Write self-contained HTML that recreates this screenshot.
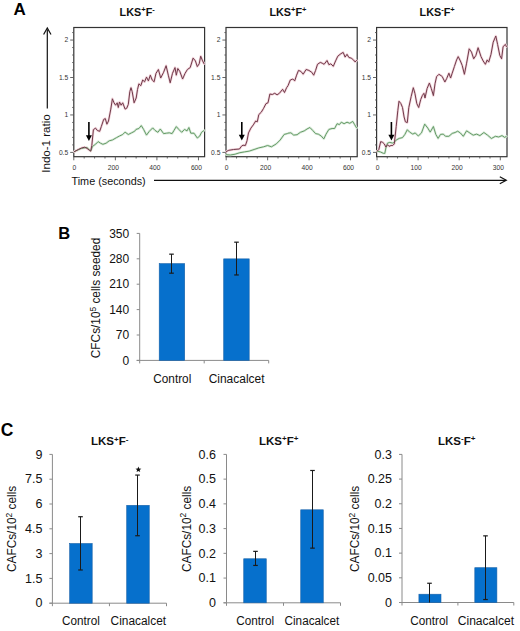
<!DOCTYPE html>
<html><head><meta charset="utf-8"><style>
html,body{margin:0;padding:0;background:#fff;}
svg{display:block;font-family:"Liberation Sans", sans-serif;}
</style></head><body>
<svg width="520" height="631" viewBox="0 0 520 631">
<rect x="0" y="0" width="520" height="631" fill="#fff"/>
<text x="13.5" y="15" font-size="17" text-anchor="start" font-weight="bold" fill="#000" >A</text>
<rect x="73.8" y="27.5" width="130.8" height="129.2" fill="none" stroke="#333" stroke-width="1.2"/>
<line x1="70.2" y1="152.4" x2="73.8" y2="152.4" stroke="#555" stroke-width="0.9"/>
<text x="68.2" y="154.8" font-size="6.7" text-anchor="end" font-weight="normal" fill="#333" >0.5</text>
<line x1="72.2" y1="144.91" x2="73.8" y2="144.91" stroke="#555" stroke-width="0.9"/>
<line x1="72.2" y1="137.42" x2="73.8" y2="137.42" stroke="#555" stroke-width="0.9"/>
<line x1="72.2" y1="129.93" x2="73.8" y2="129.93" stroke="#555" stroke-width="0.9"/>
<line x1="72.2" y1="122.44" x2="73.8" y2="122.44" stroke="#555" stroke-width="0.9"/>
<line x1="70.2" y1="114.95" x2="73.8" y2="114.95" stroke="#555" stroke-width="0.9"/>
<text x="68.2" y="117.35" font-size="6.7" text-anchor="end" font-weight="normal" fill="#333" >1</text>
<line x1="72.2" y1="107.46" x2="73.8" y2="107.46" stroke="#555" stroke-width="0.9"/>
<line x1="72.2" y1="99.97" x2="73.8" y2="99.97" stroke="#555" stroke-width="0.9"/>
<line x1="72.2" y1="92.48" x2="73.8" y2="92.48" stroke="#555" stroke-width="0.9"/>
<line x1="72.2" y1="84.99" x2="73.8" y2="84.99" stroke="#555" stroke-width="0.9"/>
<line x1="70.2" y1="77.5" x2="73.8" y2="77.5" stroke="#555" stroke-width="0.9"/>
<text x="68.2" y="79.9" font-size="6.7" text-anchor="end" font-weight="normal" fill="#333" >1.5</text>
<line x1="72.2" y1="70.01" x2="73.8" y2="70.01" stroke="#555" stroke-width="0.9"/>
<line x1="72.2" y1="62.52" x2="73.8" y2="62.52" stroke="#555" stroke-width="0.9"/>
<line x1="72.2" y1="55.03" x2="73.8" y2="55.03" stroke="#555" stroke-width="0.9"/>
<line x1="72.2" y1="47.54" x2="73.8" y2="47.54" stroke="#555" stroke-width="0.9"/>
<line x1="70.2" y1="40.05" x2="73.8" y2="40.05" stroke="#555" stroke-width="0.9"/>
<text x="68.2" y="42.45" font-size="6.7" text-anchor="end" font-weight="normal" fill="#333" >2</text>
<line x1="72.2" y1="32.56" x2="73.8" y2="32.56" stroke="#555" stroke-width="0.9"/>
<line x1="73.8" y1="156.7" x2="73.8" y2="160.3" stroke="#555" stroke-width="0.9"/>
<text x="74.3" y="169.9" font-size="6.7" text-anchor="middle" font-weight="normal" fill="#333" >0</text>
<line x1="84.19" y1="156.7" x2="84.19" y2="158.5" stroke="#555" stroke-width="0.9"/>
<line x1="94.58" y1="156.7" x2="94.58" y2="158.5" stroke="#555" stroke-width="0.9"/>
<line x1="104.97" y1="156.7" x2="104.97" y2="158.5" stroke="#555" stroke-width="0.9"/>
<line x1="115.36" y1="156.7" x2="115.36" y2="160.3" stroke="#555" stroke-width="0.9"/>
<text x="113.36" y="169.9" font-size="6.7" text-anchor="middle" font-weight="normal" fill="#333" >200</text>
<line x1="125.75" y1="156.7" x2="125.75" y2="158.5" stroke="#555" stroke-width="0.9"/>
<line x1="136.14" y1="156.7" x2="136.14" y2="158.5" stroke="#555" stroke-width="0.9"/>
<line x1="146.53" y1="156.7" x2="146.53" y2="158.5" stroke="#555" stroke-width="0.9"/>
<line x1="156.92" y1="156.7" x2="156.92" y2="160.3" stroke="#555" stroke-width="0.9"/>
<text x="154.92" y="169.9" font-size="6.7" text-anchor="middle" font-weight="normal" fill="#333" >400</text>
<line x1="167.31" y1="156.7" x2="167.31" y2="158.5" stroke="#555" stroke-width="0.9"/>
<line x1="177.7" y1="156.7" x2="177.7" y2="158.5" stroke="#555" stroke-width="0.9"/>
<line x1="188.09" y1="156.7" x2="188.09" y2="158.5" stroke="#555" stroke-width="0.9"/>
<line x1="198.48" y1="156.7" x2="198.48" y2="160.3" stroke="#555" stroke-width="0.9"/>
<text x="196.48" y="169.9" font-size="6.7" text-anchor="middle" font-weight="normal" fill="#333" >600</text>
<rect x="226" y="27.5" width="131.2" height="129.2" fill="none" stroke="#333" stroke-width="1.2"/>
<line x1="222.4" y1="152.4" x2="226" y2="152.4" stroke="#555" stroke-width="0.9"/>
<text x="220.4" y="154.8" font-size="6.7" text-anchor="end" font-weight="normal" fill="#333" >0.5</text>
<line x1="224.4" y1="144.91" x2="226" y2="144.91" stroke="#555" stroke-width="0.9"/>
<line x1="224.4" y1="137.42" x2="226" y2="137.42" stroke="#555" stroke-width="0.9"/>
<line x1="224.4" y1="129.93" x2="226" y2="129.93" stroke="#555" stroke-width="0.9"/>
<line x1="224.4" y1="122.44" x2="226" y2="122.44" stroke="#555" stroke-width="0.9"/>
<line x1="222.4" y1="114.95" x2="226" y2="114.95" stroke="#555" stroke-width="0.9"/>
<text x="220.4" y="117.35" font-size="6.7" text-anchor="end" font-weight="normal" fill="#333" >1</text>
<line x1="224.4" y1="107.46" x2="226" y2="107.46" stroke="#555" stroke-width="0.9"/>
<line x1="224.4" y1="99.97" x2="226" y2="99.97" stroke="#555" stroke-width="0.9"/>
<line x1="224.4" y1="92.48" x2="226" y2="92.48" stroke="#555" stroke-width="0.9"/>
<line x1="224.4" y1="84.99" x2="226" y2="84.99" stroke="#555" stroke-width="0.9"/>
<line x1="222.4" y1="77.5" x2="226" y2="77.5" stroke="#555" stroke-width="0.9"/>
<text x="220.4" y="79.9" font-size="6.7" text-anchor="end" font-weight="normal" fill="#333" >1.5</text>
<line x1="224.4" y1="70.01" x2="226" y2="70.01" stroke="#555" stroke-width="0.9"/>
<line x1="224.4" y1="62.52" x2="226" y2="62.52" stroke="#555" stroke-width="0.9"/>
<line x1="224.4" y1="55.03" x2="226" y2="55.03" stroke="#555" stroke-width="0.9"/>
<line x1="224.4" y1="47.54" x2="226" y2="47.54" stroke="#555" stroke-width="0.9"/>
<line x1="222.4" y1="40.05" x2="226" y2="40.05" stroke="#555" stroke-width="0.9"/>
<text x="220.4" y="42.45" font-size="6.7" text-anchor="end" font-weight="normal" fill="#333" >2</text>
<line x1="224.4" y1="32.56" x2="226" y2="32.56" stroke="#555" stroke-width="0.9"/>
<line x1="226.2" y1="156.7" x2="226.2" y2="160.3" stroke="#555" stroke-width="0.9"/>
<text x="226.7" y="169.9" font-size="6.7" text-anchor="middle" font-weight="normal" fill="#333" >0</text>
<line x1="236.56" y1="156.7" x2="236.56" y2="158.5" stroke="#555" stroke-width="0.9"/>
<line x1="246.92" y1="156.7" x2="246.92" y2="158.5" stroke="#555" stroke-width="0.9"/>
<line x1="257.28" y1="156.7" x2="257.28" y2="158.5" stroke="#555" stroke-width="0.9"/>
<line x1="267.64" y1="156.7" x2="267.64" y2="160.3" stroke="#555" stroke-width="0.9"/>
<text x="265.64" y="169.9" font-size="6.7" text-anchor="middle" font-weight="normal" fill="#333" >200</text>
<line x1="278" y1="156.7" x2="278" y2="158.5" stroke="#555" stroke-width="0.9"/>
<line x1="288.36" y1="156.7" x2="288.36" y2="158.5" stroke="#555" stroke-width="0.9"/>
<line x1="298.72" y1="156.7" x2="298.72" y2="158.5" stroke="#555" stroke-width="0.9"/>
<line x1="309.08" y1="156.7" x2="309.08" y2="160.3" stroke="#555" stroke-width="0.9"/>
<text x="307.08" y="169.9" font-size="6.7" text-anchor="middle" font-weight="normal" fill="#333" >400</text>
<line x1="319.44" y1="156.7" x2="319.44" y2="158.5" stroke="#555" stroke-width="0.9"/>
<line x1="329.8" y1="156.7" x2="329.8" y2="158.5" stroke="#555" stroke-width="0.9"/>
<line x1="340.16" y1="156.7" x2="340.16" y2="158.5" stroke="#555" stroke-width="0.9"/>
<line x1="350.52" y1="156.7" x2="350.52" y2="160.3" stroke="#555" stroke-width="0.9"/>
<text x="348.52" y="169.9" font-size="6.7" text-anchor="middle" font-weight="normal" fill="#333" >600</text>
<rect x="376.6" y="27.5" width="130.4" height="129.2" fill="none" stroke="#333" stroke-width="1.2"/>
<line x1="373" y1="152.4" x2="376.6" y2="152.4" stroke="#555" stroke-width="0.9"/>
<text x="371" y="154.8" font-size="6.7" text-anchor="end" font-weight="normal" fill="#333" >0.5</text>
<line x1="375" y1="144.91" x2="376.6" y2="144.91" stroke="#555" stroke-width="0.9"/>
<line x1="375" y1="137.42" x2="376.6" y2="137.42" stroke="#555" stroke-width="0.9"/>
<line x1="375" y1="129.93" x2="376.6" y2="129.93" stroke="#555" stroke-width="0.9"/>
<line x1="375" y1="122.44" x2="376.6" y2="122.44" stroke="#555" stroke-width="0.9"/>
<line x1="373" y1="114.95" x2="376.6" y2="114.95" stroke="#555" stroke-width="0.9"/>
<text x="371" y="117.35" font-size="6.7" text-anchor="end" font-weight="normal" fill="#333" >1</text>
<line x1="375" y1="107.46" x2="376.6" y2="107.46" stroke="#555" stroke-width="0.9"/>
<line x1="375" y1="99.97" x2="376.6" y2="99.97" stroke="#555" stroke-width="0.9"/>
<line x1="375" y1="92.48" x2="376.6" y2="92.48" stroke="#555" stroke-width="0.9"/>
<line x1="375" y1="84.99" x2="376.6" y2="84.99" stroke="#555" stroke-width="0.9"/>
<line x1="373" y1="77.5" x2="376.6" y2="77.5" stroke="#555" stroke-width="0.9"/>
<text x="371" y="79.9" font-size="6.7" text-anchor="end" font-weight="normal" fill="#333" >1.5</text>
<line x1="375" y1="70.01" x2="376.6" y2="70.01" stroke="#555" stroke-width="0.9"/>
<line x1="375" y1="62.52" x2="376.6" y2="62.52" stroke="#555" stroke-width="0.9"/>
<line x1="375" y1="55.03" x2="376.6" y2="55.03" stroke="#555" stroke-width="0.9"/>
<line x1="375" y1="47.54" x2="376.6" y2="47.54" stroke="#555" stroke-width="0.9"/>
<line x1="373" y1="40.05" x2="376.6" y2="40.05" stroke="#555" stroke-width="0.9"/>
<text x="371" y="42.45" font-size="6.7" text-anchor="end" font-weight="normal" fill="#333" >2</text>
<line x1="375" y1="32.56" x2="376.6" y2="32.56" stroke="#555" stroke-width="0.9"/>
<line x1="377" y1="156.7" x2="377" y2="160.3" stroke="#555" stroke-width="0.9"/>
<text x="377.5" y="169.9" font-size="6.7" text-anchor="middle" font-weight="normal" fill="#333" >0</text>
<line x1="387.27" y1="156.7" x2="387.27" y2="158.5" stroke="#555" stroke-width="0.9"/>
<line x1="397.55" y1="156.7" x2="397.55" y2="158.5" stroke="#555" stroke-width="0.9"/>
<line x1="407.82" y1="156.7" x2="407.82" y2="158.5" stroke="#555" stroke-width="0.9"/>
<line x1="418.1" y1="156.7" x2="418.1" y2="160.3" stroke="#555" stroke-width="0.9"/>
<text x="416.1" y="169.9" font-size="6.7" text-anchor="middle" font-weight="normal" fill="#333" >100</text>
<line x1="428.38" y1="156.7" x2="428.38" y2="158.5" stroke="#555" stroke-width="0.9"/>
<line x1="438.65" y1="156.7" x2="438.65" y2="158.5" stroke="#555" stroke-width="0.9"/>
<line x1="448.93" y1="156.7" x2="448.93" y2="158.5" stroke="#555" stroke-width="0.9"/>
<line x1="459.2" y1="156.7" x2="459.2" y2="160.3" stroke="#555" stroke-width="0.9"/>
<text x="457.2" y="169.9" font-size="6.7" text-anchor="middle" font-weight="normal" fill="#333" >200</text>
<line x1="469.48" y1="156.7" x2="469.48" y2="158.5" stroke="#555" stroke-width="0.9"/>
<line x1="479.75" y1="156.7" x2="479.75" y2="158.5" stroke="#555" stroke-width="0.9"/>
<line x1="490.02" y1="156.7" x2="490.02" y2="158.5" stroke="#555" stroke-width="0.9"/>
<line x1="500.3" y1="156.7" x2="500.3" y2="160.3" stroke="#555" stroke-width="0.9"/>
<text x="498.3" y="169.9" font-size="6.7" text-anchor="middle" font-weight="normal" fill="#333" >300</text>
<polyline points="74.4,151.6 81.5,148.4 87,147.5 90.7,151.1 92.6,146.4 95.8,144 98.1,141.6 100.5,143.2 102.9,144.3 106.1,143.2 109.2,140.8 112.4,140 116.4,137.7 119.5,136 122.7,134.5 125.1,132.1 128.3,134.5 131.4,132.9 134.6,131.3 136,129.4 138.9,128.5 141.3,125.6 143.6,129.4 146.5,135.1 149.3,131.3 152.7,127.9 155,130.4 157.9,132.3 160.3,129 163.6,133.6 166.4,133.2 169.3,132.8 172.1,133.6 174,130.4 176.3,126.6 178.8,129.4 181.7,132.3 184.5,129.4 187,130.9 188.9,127.5 190.8,133.2 194,133.2 197.3,138 199.7,136.1 201.6,132.3 204.1,130.4" fill="none" stroke="#dcebdc" stroke-width="2.4" stroke-linejoin="round" stroke-linecap="round" />
<polyline points="226.3,154.7 230.3,155 235.1,154.2 239.8,152.7 244.6,151.9 249.3,151.1 254.1,149.5 258.8,147.9 263.6,146.8 267.6,145.5 271.5,146.8 276.3,143.9 280.2,140 284.2,134.4 287.4,133.6 288,133.2 290.9,132.8 293.7,135.1 297.1,134.7 300.4,132.3 304.2,130.9 307,129 309.9,127.5 312.7,130.4 315.6,133.6 318.4,134.2 321.3,136.1 323.8,138.9 326,134.2 328.9,129.4 332.1,128.5 334.6,128.5 337.1,123.7 339.4,124.6 341.3,122.2 344.1,123.7 347,122.2 349.8,123.3 352.7,121.4 354.6,124.6 356.6,127.9" fill="none" stroke="#dcebdc" stroke-width="2.4" stroke-linejoin="round" stroke-linecap="round" />
<polyline points="377.2,151.1 380.3,151.9 383.5,153.4 384.8,153.4 385.9,147.9 387.5,143.1 389.8,142.4 392.7,143.1 394.3,142.4 396.2,140 399.3,138.4 402.5,137.6 404.9,134.4 407.3,129.7 409.6,132.1 412.8,134.1 415.2,132.9 418.3,136 421.5,132.9 424.7,124.1 427.8,128.1 430.2,132.1 433.4,126.5 435.8,134.4 438.1,138.4 440.5,134.4 443.3,134.1 445.5,136.3 448.9,136.3 452.2,133.4 455.1,132.5 457.7,131.2 460.4,133 463.3,136.3 466.6,130.8 469.9,133 473.2,135.2 476.6,134.1 479.9,135.6 483.9,132.5 487.6,135.2 491.4,138.5 495.4,136.3 498.7,137 502,135.6 504.7,137.4 506.4,136.3" fill="none" stroke="#dcebdc" stroke-width="2.4" stroke-linejoin="round" stroke-linecap="round" />
<polyline points="74.4,151.6 78.3,149.5 81.5,148 84.7,147.2 87,148.4 89.4,150.3 90.7,151.1 91.8,145.6 93.4,129.7 95.5,128.1 97.4,130.5 99.7,131.3 101.3,126.6 103.7,119.4 105.3,118.6 106.9,124.2 108.5,121 110.8,109.1 112.4,98.8 114,102.8 115.6,105.2 117.2,102.8 118.3,107.5 119.5,102 121.1,105.2 122.7,102.8 125.1,109.1 126.7,108.3 128.3,104.4 129.8,91.7 131,87.7 132.2,91.7 134.1,102.8 136.2,98 137.5,89.5 138.9,83.8 140.8,85.7 142.7,80 144.6,81.8 146.5,77.1 148.4,80.9 150.3,75.2 152.2,80 154.1,81.8 156,73.3 158.4,69.5 160.7,78 163.6,72.3 166.1,65.7 168.3,75.2 170.2,82.8 172.5,73.3 175,67.6 176.3,75.2 177.8,68.5 179.8,71.4 182.6,79 185.1,73.3 187.4,69.5 190.2,67.6 193.1,58.1 195.4,60.9 197.3,66.6 199.2,63.8 200.7,56.2 202.6,60.9 204.1,63.8" fill="none" stroke="#f1d3da" stroke-width="2.4" stroke-linejoin="round" stroke-linecap="round" />
<polyline points="226.3,151.5 228.8,150.3 233.5,149.5 239.5,149 241.4,146.3 243,145.2 245.4,145.5 247,140.8 248.5,132.9 250.9,128.1 253.3,124.9 255.7,121 257.3,121.8 258.8,114.6 261.2,112.3 263.6,108.3 266,103.6 268,102.8 269.9,94 272.3,94.5 274.7,93.3 277.1,94.8 279.4,93.3 282.6,89.3 284.5,92.5 286.6,87.7 288,85.7 290.3,80 292.8,79 294.7,80.9 296.6,75.2 298.5,70.4 300.9,71.4 303.2,74.2 306.1,69.5 308.9,70.4 311.8,72.3 313.7,75.2 315.6,70.4 317.5,64.3 320.3,62.4 322.2,63.2 324.1,64.3 327,60.5 328.9,64.7 330.8,63.8 333.3,66.3 335.6,60.9 337.8,56.2 340.9,53.7 343.2,52.4 345.1,57.1 347,54.3 348.9,57.5 351.2,58.1 353.6,60 355,61.9 356.6,60.5" fill="none" stroke="#f1d3da" stroke-width="2.4" stroke-linejoin="round" stroke-linecap="round" />
<polyline points="377.2,151.1 378.8,149.5 380.7,141.6 382.7,142.4 384.3,143.9 385.9,147.1 387.5,144.7 389,146.3 391.1,145.5 392.7,145.5 394.3,143.9 396.2,126.5 397.8,110.7 399,101.2 400.9,103.6 402.5,107.5 404.1,117 405.4,121.8 407.3,122.6 408.8,107.5 411.2,96.4 413.3,87.7 414.9,93.3 416.8,103.6 418.7,107.5 420.7,99.6 422.3,95.6 423.9,93.3 425,98 427.1,88.5 429.4,83 431.3,88.5 433.4,95.6 435,83.8 436.6,76.6 438.9,74.3 441.3,75.8 442.2,76.5 444.9,82 446.6,78.7 448.9,73.2 450.6,78 452.2,73.2 454.4,66.5 456.6,59.9 458.2,56.6 460.4,61 462.2,65.4 464.4,74.3 466.6,63.2 469.2,48.8 471.5,52.1 473.7,58.8 475.9,55.4 478.1,47.7 481,56.6 483.2,61 485.4,64.3 487.2,59.9 488.7,62.1 491,54.3 493.2,42.2 495.8,36 497.6,44.4 499.8,55.4 501.6,58.8 503.1,46.6 505.4,44.4 506.4,46.6" fill="none" stroke="#f1d3da" stroke-width="2.4" stroke-linejoin="round" stroke-linecap="round" />
<polyline points="74.4,151.6 81.5,148.4 87,147.5 90.7,151.1 92.6,146.4 95.8,144 98.1,141.6 100.5,143.2 102.9,144.3 106.1,143.2 109.2,140.8 112.4,140 116.4,137.7 119.5,136 122.7,134.5 125.1,132.1 128.3,134.5 131.4,132.9 134.6,131.3 136,129.4 138.9,128.5 141.3,125.6 143.6,129.4 146.5,135.1 149.3,131.3 152.7,127.9 155,130.4 157.9,132.3 160.3,129 163.6,133.6 166.4,133.2 169.3,132.8 172.1,133.6 174,130.4 176.3,126.6 178.8,129.4 181.7,132.3 184.5,129.4 187,130.9 188.9,127.5 190.8,133.2 194,133.2 197.3,138 199.7,136.1 201.6,132.3 204.1,130.4" fill="none" stroke="#5e9660" stroke-width="0.95" stroke-linejoin="round" stroke-linecap="round" />
<polyline points="226.3,154.7 230.3,155 235.1,154.2 239.8,152.7 244.6,151.9 249.3,151.1 254.1,149.5 258.8,147.9 263.6,146.8 267.6,145.5 271.5,146.8 276.3,143.9 280.2,140 284.2,134.4 287.4,133.6 288,133.2 290.9,132.8 293.7,135.1 297.1,134.7 300.4,132.3 304.2,130.9 307,129 309.9,127.5 312.7,130.4 315.6,133.6 318.4,134.2 321.3,136.1 323.8,138.9 326,134.2 328.9,129.4 332.1,128.5 334.6,128.5 337.1,123.7 339.4,124.6 341.3,122.2 344.1,123.7 347,122.2 349.8,123.3 352.7,121.4 354.6,124.6 356.6,127.9" fill="none" stroke="#5e9660" stroke-width="0.95" stroke-linejoin="round" stroke-linecap="round" />
<polyline points="377.2,151.1 380.3,151.9 383.5,153.4 384.8,153.4 385.9,147.9 387.5,143.1 389.8,142.4 392.7,143.1 394.3,142.4 396.2,140 399.3,138.4 402.5,137.6 404.9,134.4 407.3,129.7 409.6,132.1 412.8,134.1 415.2,132.9 418.3,136 421.5,132.9 424.7,124.1 427.8,128.1 430.2,132.1 433.4,126.5 435.8,134.4 438.1,138.4 440.5,134.4 443.3,134.1 445.5,136.3 448.9,136.3 452.2,133.4 455.1,132.5 457.7,131.2 460.4,133 463.3,136.3 466.6,130.8 469.9,133 473.2,135.2 476.6,134.1 479.9,135.6 483.9,132.5 487.6,135.2 491.4,138.5 495.4,136.3 498.7,137 502,135.6 504.7,137.4 506.4,136.3" fill="none" stroke="#5e9660" stroke-width="0.95" stroke-linejoin="round" stroke-linecap="round" />
<polyline points="74.4,151.6 78.3,149.5 81.5,148 84.7,147.2 87,148.4 89.4,150.3 90.7,151.1 91.8,145.6 93.4,129.7 95.5,128.1 97.4,130.5 99.7,131.3 101.3,126.6 103.7,119.4 105.3,118.6 106.9,124.2 108.5,121 110.8,109.1 112.4,98.8 114,102.8 115.6,105.2 117.2,102.8 118.3,107.5 119.5,102 121.1,105.2 122.7,102.8 125.1,109.1 126.7,108.3 128.3,104.4 129.8,91.7 131,87.7 132.2,91.7 134.1,102.8 136.2,98 137.5,89.5 138.9,83.8 140.8,85.7 142.7,80 144.6,81.8 146.5,77.1 148.4,80.9 150.3,75.2 152.2,80 154.1,81.8 156,73.3 158.4,69.5 160.7,78 163.6,72.3 166.1,65.7 168.3,75.2 170.2,82.8 172.5,73.3 175,67.6 176.3,75.2 177.8,68.5 179.8,71.4 182.6,79 185.1,73.3 187.4,69.5 190.2,67.6 193.1,58.1 195.4,60.9 197.3,66.6 199.2,63.8 200.7,56.2 202.6,60.9 204.1,63.8" fill="none" stroke="#703a4a" stroke-width="1.0" stroke-linejoin="round" stroke-linecap="round" />
<polyline points="226.3,151.5 228.8,150.3 233.5,149.5 239.5,149 241.4,146.3 243,145.2 245.4,145.5 247,140.8 248.5,132.9 250.9,128.1 253.3,124.9 255.7,121 257.3,121.8 258.8,114.6 261.2,112.3 263.6,108.3 266,103.6 268,102.8 269.9,94 272.3,94.5 274.7,93.3 277.1,94.8 279.4,93.3 282.6,89.3 284.5,92.5 286.6,87.7 288,85.7 290.3,80 292.8,79 294.7,80.9 296.6,75.2 298.5,70.4 300.9,71.4 303.2,74.2 306.1,69.5 308.9,70.4 311.8,72.3 313.7,75.2 315.6,70.4 317.5,64.3 320.3,62.4 322.2,63.2 324.1,64.3 327,60.5 328.9,64.7 330.8,63.8 333.3,66.3 335.6,60.9 337.8,56.2 340.9,53.7 343.2,52.4 345.1,57.1 347,54.3 348.9,57.5 351.2,58.1 353.6,60 355,61.9 356.6,60.5" fill="none" stroke="#703a4a" stroke-width="1.0" stroke-linejoin="round" stroke-linecap="round" />
<polyline points="377.2,151.1 378.8,149.5 380.7,141.6 382.7,142.4 384.3,143.9 385.9,147.1 387.5,144.7 389,146.3 391.1,145.5 392.7,145.5 394.3,143.9 396.2,126.5 397.8,110.7 399,101.2 400.9,103.6 402.5,107.5 404.1,117 405.4,121.8 407.3,122.6 408.8,107.5 411.2,96.4 413.3,87.7 414.9,93.3 416.8,103.6 418.7,107.5 420.7,99.6 422.3,95.6 423.9,93.3 425,98 427.1,88.5 429.4,83 431.3,88.5 433.4,95.6 435,83.8 436.6,76.6 438.9,74.3 441.3,75.8 442.2,76.5 444.9,82 446.6,78.7 448.9,73.2 450.6,78 452.2,73.2 454.4,66.5 456.6,59.9 458.2,56.6 460.4,61 462.2,65.4 464.4,74.3 466.6,63.2 469.2,48.8 471.5,52.1 473.7,58.8 475.9,55.4 478.1,47.7 481,56.6 483.2,61 485.4,64.3 487.2,59.9 488.7,62.1 491,54.3 493.2,42.2 495.8,36 497.6,44.4 499.8,55.4 501.6,58.8 503.1,46.6 505.4,44.4 506.4,46.6" fill="none" stroke="#703a4a" stroke-width="1.0" stroke-linejoin="round" stroke-linecap="round" />
<line x1="88.9" y1="122" x2="88.9" y2="137" stroke="#000" stroke-width="1.6"/><polygon points="85.9,135.2 91.9,135.2 88.9,141" fill="#000"/>
<line x1="241.8" y1="122" x2="241.8" y2="136.5" stroke="#000" stroke-width="1.6"/><polygon points="238.8,134.7 244.8,134.7 241.8,140.5" fill="#000"/>
<line x1="391.4" y1="122" x2="391.4" y2="136.5" stroke="#000" stroke-width="1.6"/><polygon points="388.4,134.7 394.4,134.7 391.4,140.5" fill="#000"/>
<text x="119.6" y="15.8" font-size="10.8" font-weight="bold" fill="#111">LKS<tspan font-size="7.56" dy="-3.4">+</tspan><tspan dy="3.4">F</tspan><tspan font-size="7.56" dy="-3.4">-</tspan></text>
<text x="269.4" y="15.8" font-size="10.8" font-weight="bold" fill="#111">LKS<tspan font-size="7.56" dy="-3.4">+</tspan><tspan dy="3.4">F</tspan><tspan font-size="7.56" dy="-3.4">+</tspan></text>
<text x="419.6" y="15.8" font-size="10.8" font-weight="bold" fill="#111">LKS<tspan font-size="7.56" dy="-3.4">-</tspan><tspan dy="3.4">F</tspan><tspan font-size="7.56" dy="-3.4">+</tspan></text>
<line x1="47.3" y1="29.5" x2="47.3" y2="108.5" stroke="#111" stroke-width="1.2"/>
<polyline points="43.6,34.5 47.3,28 51,34.5" fill="none" stroke="#111" stroke-width="1.2"/>
<text x="0" y="0" font-size="11.5" text-anchor="middle" font-weight="normal" fill="#111" textLength="58.4" lengthAdjust="spacingAndGlyphs" transform="translate(49.9,143.5) rotate(-90)">Indo-1 ratio</text>
<text x="71.5" y="185" font-size="11.5" text-anchor="start" font-weight="normal" fill="#111" textLength="74.2" lengthAdjust="spacingAndGlyphs" >Time (seconds)</text>
<line x1="154" y1="180.3" x2="506" y2="180.3" stroke="#111" stroke-width="1.2"/>
<polyline points="499.8,176.8 506.3,180.3 499.8,183.8" fill="none" stroke="#111" stroke-width="1.2"/>
<text x="58.3" y="238.8" font-size="16.5" text-anchor="start" font-weight="bold" fill="#000" >B</text>
<line x1="139.7" y1="233.4" x2="139.7" y2="360.4" stroke="#8a8a8a" stroke-width="1"/><line x1="136.7" y1="360.4" x2="139.7" y2="360.4" stroke="#8a8a8a" stroke-width="1"/><text x="129.2" y="364.6" font-size="12" text-anchor="end" font-weight="normal" fill="#111" >0</text><line x1="136.7" y1="335" x2="139.7" y2="335" stroke="#8a8a8a" stroke-width="1"/><text x="129.2" y="339.2" font-size="12" text-anchor="end" font-weight="normal" fill="#111" >70</text><line x1="136.7" y1="309.6" x2="139.7" y2="309.6" stroke="#8a8a8a" stroke-width="1"/><text x="129.2" y="313.8" font-size="12" text-anchor="end" font-weight="normal" fill="#111" >140</text><line x1="136.7" y1="284.2" x2="139.7" y2="284.2" stroke="#8a8a8a" stroke-width="1"/><text x="129.2" y="288.4" font-size="12" text-anchor="end" font-weight="normal" fill="#111" >210</text><line x1="136.7" y1="258.8" x2="139.7" y2="258.8" stroke="#8a8a8a" stroke-width="1"/><text x="129.2" y="263" font-size="12" text-anchor="end" font-weight="normal" fill="#111" >280</text><line x1="136.7" y1="233.4" x2="139.7" y2="233.4" stroke="#8a8a8a" stroke-width="1"/><text x="129.2" y="237.6" font-size="12" text-anchor="end" font-weight="normal" fill="#111" >350</text><line x1="136.7" y1="360.4" x2="268.7" y2="360.4" stroke="#8a8a8a" stroke-width="1"/><line x1="139.7" y1="360.4" x2="139.7" y2="363.4" stroke="#8a8a8a" stroke-width="1"/><line x1="204.2" y1="360.4" x2="204.2" y2="363.4" stroke="#8a8a8a" stroke-width="1"/><line x1="268.7" y1="360.4" x2="268.7" y2="363.4" stroke="#8a8a8a" stroke-width="1"/><rect x="159.21" y="263.63" width="25.48" height="96.77" fill="#0670cc" stroke="#1660a8" stroke-width="0.6"/><line x1="171.5" y1="254.16" x2="171.5" y2="273.17" stroke="#1a1a1a" stroke-width="1"/><line x1="169.2" y1="254.16" x2="173.8" y2="254.16" stroke="#1a1a1a" stroke-width="1.2"/><line x1="169.2" y1="273.17" x2="173.8" y2="273.17" stroke="#1a1a1a" stroke-width="1.2"/><rect x="223.71" y="258.87" width="25.48" height="101.53" fill="#0670cc" stroke="#1660a8" stroke-width="0.6"/><line x1="236.5" y1="242.18" x2="236.5" y2="274.95" stroke="#1a1a1a" stroke-width="1"/><line x1="234.2" y1="242.18" x2="238.8" y2="242.18" stroke="#1a1a1a" stroke-width="1.2"/><line x1="234.2" y1="274.95" x2="238.8" y2="274.95" stroke="#1a1a1a" stroke-width="1.2"/><text x="172.3" y="382.5" font-size="12" text-anchor="middle" font-weight="normal" fill="#111" textLength="38" lengthAdjust="spacingAndGlyphs" >Control</text><text x="236.6" y="382.5" font-size="12" text-anchor="middle" font-weight="normal" fill="#111" textLength="55.8" lengthAdjust="spacingAndGlyphs" >Cinacalcet</text>
<text transform="translate(100.1,298) rotate(-90)" font-size="12" text-anchor="middle" fill="#111" textLength="120.4" lengthAdjust="spacingAndGlyphs">CFCs/10<tspan font-size="8.5" dy="-4.5">5</tspan><tspan dy="4.5"> cells seeded</tspan></text>
<text x="0.8" y="435.8" font-size="17.5" text-anchor="start" font-weight="bold" fill="#000" >C</text>
<text x="91" y="445" font-size="11.5" font-weight="bold" fill="#111">LKS<tspan font-size="8.05" dy="-3.4">+</tspan><tspan dy="3.4">F</tspan><tspan font-size="8.05" dy="-3.4">-</tspan></text>
<text x="259" y="444.5" font-size="11.5" font-weight="bold" fill="#111">LKS<tspan font-size="8.05" dy="-3.4">+</tspan><tspan dy="3.4">F</tspan><tspan font-size="8.05" dy="-3.4">+</tspan></text>
<text x="438" y="444.5" font-size="11.5" font-weight="bold" fill="#111">LKS<tspan font-size="8.05" dy="-3.4">-</tspan><tspan dy="3.4">F</tspan><tspan font-size="8.05" dy="-3.4">+</tspan></text>
<line x1="52.4" y1="454.4" x2="52.4" y2="603.2" stroke="#8a8a8a" stroke-width="1"/><line x1="49.4" y1="603.2" x2="52.4" y2="603.2" stroke="#8a8a8a" stroke-width="1"/><text x="42.4" y="607.4" font-size="12.5" text-anchor="end" font-weight="normal" fill="#111" >0</text><line x1="49.4" y1="578.4" x2="52.4" y2="578.4" stroke="#8a8a8a" stroke-width="1"/><text x="42.4" y="582.6" font-size="12.5" text-anchor="end" font-weight="normal" fill="#111" >1.5</text><line x1="49.4" y1="553.6" x2="52.4" y2="553.6" stroke="#8a8a8a" stroke-width="1"/><text x="42.4" y="557.8" font-size="12.5" text-anchor="end" font-weight="normal" fill="#111" >3</text><line x1="49.4" y1="528.8" x2="52.4" y2="528.8" stroke="#8a8a8a" stroke-width="1"/><text x="42.4" y="533" font-size="12.5" text-anchor="end" font-weight="normal" fill="#111" >4.5</text><line x1="49.4" y1="504" x2="52.4" y2="504" stroke="#8a8a8a" stroke-width="1"/><text x="42.4" y="508.2" font-size="12.5" text-anchor="end" font-weight="normal" fill="#111" >6</text><line x1="49.4" y1="479.2" x2="52.4" y2="479.2" stroke="#8a8a8a" stroke-width="1"/><text x="42.4" y="483.4" font-size="12.5" text-anchor="end" font-weight="normal" fill="#111" >7.5</text><line x1="49.4" y1="454.4" x2="52.4" y2="454.4" stroke="#8a8a8a" stroke-width="1"/><text x="42.4" y="458.6" font-size="12.5" text-anchor="end" font-weight="normal" fill="#111" >9</text><line x1="49.4" y1="603.2" x2="166.5" y2="603.2" stroke="#8a8a8a" stroke-width="1"/><line x1="52.4" y1="603.2" x2="52.4" y2="606.2" stroke="#8a8a8a" stroke-width="1"/><line x1="109.45" y1="603.2" x2="109.45" y2="606.2" stroke="#8a8a8a" stroke-width="1"/><line x1="166.5" y1="603.2" x2="166.5" y2="606.2" stroke="#8a8a8a" stroke-width="1"/><rect x="69.66" y="543.51" width="22.53" height="59.69" fill="#0670cc" stroke="#1660a8" stroke-width="0.6"/><line x1="80.5" y1="516.73" x2="80.5" y2="569.97" stroke="#1a1a1a" stroke-width="1"/><line x1="78.2" y1="516.73" x2="82.8" y2="516.73" stroke="#1a1a1a" stroke-width="1.2"/><line x1="78.2" y1="569.97" x2="82.8" y2="569.97" stroke="#1a1a1a" stroke-width="1.2"/><rect x="126.71" y="505.32" width="22.53" height="97.88" fill="#0670cc" stroke="#1660a8" stroke-width="0.6"/><line x1="137.5" y1="475.07" x2="137.5" y2="535.74" stroke="#1a1a1a" stroke-width="1"/><line x1="135.2" y1="475.07" x2="139.8" y2="475.07" stroke="#1a1a1a" stroke-width="1.2"/><line x1="135.2" y1="535.74" x2="139.8" y2="535.74" stroke="#1a1a1a" stroke-width="1.2"/><text x="80.9" y="624.5" font-size="12" text-anchor="middle" font-weight="normal" fill="#111" textLength="37.8" lengthAdjust="spacingAndGlyphs" >Control</text><text x="138.3" y="624.5" font-size="12" text-anchor="middle" font-weight="normal" fill="#111" textLength="55.5" lengthAdjust="spacingAndGlyphs" >Cinacalcet</text>
<polygon points="138.4,466.5 139.19,468.51 141.35,468.64 139.68,470.02 140.22,472.11 138.4,470.95 136.58,472.11 137.12,470.02 135.45,468.64 137.61,468.51" fill="#111"/>
<line x1="226.5" y1="454.4" x2="226.5" y2="602.8" stroke="#8a8a8a" stroke-width="1"/><line x1="223.5" y1="602.8" x2="226.5" y2="602.8" stroke="#8a8a8a" stroke-width="1"/><text x="216" y="607" font-size="12.5" text-anchor="end" font-weight="normal" fill="#111" >0</text><line x1="223.5" y1="578.07" x2="226.5" y2="578.07" stroke="#8a8a8a" stroke-width="1"/><text x="216" y="582.27" font-size="12.5" text-anchor="end" font-weight="normal" fill="#111" >0.1</text><line x1="223.5" y1="553.33" x2="226.5" y2="553.33" stroke="#8a8a8a" stroke-width="1"/><text x="216" y="557.53" font-size="12.5" text-anchor="end" font-weight="normal" fill="#111" >0.2</text><line x1="223.5" y1="528.6" x2="226.5" y2="528.6" stroke="#8a8a8a" stroke-width="1"/><text x="216" y="532.8" font-size="12.5" text-anchor="end" font-weight="normal" fill="#111" >0.3</text><line x1="223.5" y1="503.87" x2="226.5" y2="503.87" stroke="#8a8a8a" stroke-width="1"/><text x="216" y="508.07" font-size="12.5" text-anchor="end" font-weight="normal" fill="#111" >0.4</text><line x1="223.5" y1="479.13" x2="226.5" y2="479.13" stroke="#8a8a8a" stroke-width="1"/><text x="216" y="483.33" font-size="12.5" text-anchor="end" font-weight="normal" fill="#111" >0.5</text><line x1="223.5" y1="454.4" x2="226.5" y2="454.4" stroke="#8a8a8a" stroke-width="1"/><text x="216" y="458.6" font-size="12.5" text-anchor="end" font-weight="normal" fill="#111" >0.6</text><line x1="223.5" y1="602.8" x2="340.5" y2="602.8" stroke="#8a8a8a" stroke-width="1"/><line x1="226.5" y1="602.8" x2="226.5" y2="605.8" stroke="#8a8a8a" stroke-width="1"/><line x1="283.5" y1="602.8" x2="283.5" y2="605.8" stroke="#8a8a8a" stroke-width="1"/><line x1="340.5" y1="602.8" x2="340.5" y2="605.8" stroke="#8a8a8a" stroke-width="1"/><rect x="243.74" y="558.77" width="22.52" height="44.03" fill="#0670cc" stroke="#1660a8" stroke-width="0.6"/><line x1="255.5" y1="551.35" x2="255.5" y2="565.45" stroke="#1a1a1a" stroke-width="1"/><line x1="253.2" y1="551.35" x2="257.8" y2="551.35" stroke="#1a1a1a" stroke-width="1.2"/><line x1="253.2" y1="565.45" x2="257.8" y2="565.45" stroke="#1a1a1a" stroke-width="1.2"/><rect x="300.74" y="509.8" width="22.52" height="93" fill="#0670cc" stroke="#1660a8" stroke-width="0.6"/><line x1="312.5" y1="470.48" x2="312.5" y2="548.14" stroke="#1a1a1a" stroke-width="1"/><line x1="310.2" y1="470.48" x2="314.8" y2="470.48" stroke="#1a1a1a" stroke-width="1.2"/><line x1="310.2" y1="548.14" x2="314.8" y2="548.14" stroke="#1a1a1a" stroke-width="1.2"/><text x="255.2" y="624.7" font-size="12" text-anchor="middle" font-weight="normal" fill="#111" textLength="37.9" lengthAdjust="spacingAndGlyphs" >Control</text><text x="311.9" y="624.7" font-size="12" text-anchor="middle" font-weight="normal" fill="#111" textLength="54.7" lengthAdjust="spacingAndGlyphs" >Cinacalcet</text>
<line x1="402" y1="454.4" x2="402" y2="602.5" stroke="#8a8a8a" stroke-width="1"/><line x1="399" y1="602.5" x2="402" y2="602.5" stroke="#8a8a8a" stroke-width="1"/><text x="392" y="606.7" font-size="12.5" text-anchor="end" font-weight="normal" fill="#111" >0</text><line x1="399" y1="577.82" x2="402" y2="577.82" stroke="#8a8a8a" stroke-width="1"/><text x="392" y="582.02" font-size="12.5" text-anchor="end" font-weight="normal" fill="#111" >0.05</text><line x1="399" y1="553.13" x2="402" y2="553.13" stroke="#8a8a8a" stroke-width="1"/><text x="392" y="557.33" font-size="12.5" text-anchor="end" font-weight="normal" fill="#111" >0.1</text><line x1="399" y1="528.45" x2="402" y2="528.45" stroke="#8a8a8a" stroke-width="1"/><text x="392" y="532.65" font-size="12.5" text-anchor="end" font-weight="normal" fill="#111" >0.15</text><line x1="399" y1="503.77" x2="402" y2="503.77" stroke="#8a8a8a" stroke-width="1"/><text x="392" y="507.97" font-size="12.5" text-anchor="end" font-weight="normal" fill="#111" >0.2</text><line x1="399" y1="479.08" x2="402" y2="479.08" stroke="#8a8a8a" stroke-width="1"/><text x="392" y="483.28" font-size="12.5" text-anchor="end" font-weight="normal" fill="#111" >0.25</text><line x1="399" y1="454.4" x2="402" y2="454.4" stroke="#8a8a8a" stroke-width="1"/><text x="392" y="458.6" font-size="12.5" text-anchor="end" font-weight="normal" fill="#111" >0.3</text><line x1="399" y1="602.5" x2="513.8" y2="602.5" stroke="#8a8a8a" stroke-width="1"/><line x1="402" y1="602.5" x2="402" y2="605.5" stroke="#8a8a8a" stroke-width="1"/><line x1="457.9" y1="602.5" x2="457.9" y2="605.5" stroke="#8a8a8a" stroke-width="1"/><line x1="513.8" y1="602.5" x2="513.8" y2="605.5" stroke="#8a8a8a" stroke-width="1"/><rect x="418.91" y="594.21" width="22.08" height="8.29" fill="#0670cc" stroke="#1660a8" stroke-width="0.6"/><line x1="429.5" y1="583.25" x2="429.5" y2="602.5" stroke="#1a1a1a" stroke-width="1"/><line x1="427.2" y1="583.25" x2="431.8" y2="583.25" stroke="#1a1a1a" stroke-width="1.2"/><rect x="474.81" y="567.7" width="22.08" height="34.8" fill="#0670cc" stroke="#1660a8" stroke-width="0.6"/><line x1="485.5" y1="535.86" x2="485.5" y2="599.54" stroke="#1a1a1a" stroke-width="1"/><line x1="483.2" y1="535.86" x2="487.8" y2="535.86" stroke="#1a1a1a" stroke-width="1.2"/><line x1="483.2" y1="599.54" x2="487.8" y2="599.54" stroke="#1a1a1a" stroke-width="1.2"/><text x="429.2" y="624.7" font-size="12" text-anchor="middle" font-weight="normal" fill="#111" textLength="37.9" lengthAdjust="spacingAndGlyphs" >Control</text><text x="485.9" y="624.7" font-size="12" text-anchor="middle" font-weight="normal" fill="#111" textLength="56.3" lengthAdjust="spacingAndGlyphs" >Cinacalcet</text>
<text transform="translate(16,528.9) rotate(-90)" font-size="12" text-anchor="middle" fill="#111" textLength="86.2" lengthAdjust="spacingAndGlyphs">CAFCs/10<tspan font-size="8.5" dy="-4.5">2</tspan><tspan dy="4.5"> cells</tspan></text>
<text transform="translate(190.6,528.9) rotate(-90)" font-size="12" text-anchor="middle" fill="#111" textLength="86.2" lengthAdjust="spacingAndGlyphs">CAFCs/10<tspan font-size="8.5" dy="-4.5">2</tspan><tspan dy="4.5"> cells</tspan></text>
<text transform="translate(359.2,528.9) rotate(-90)" font-size="12" text-anchor="middle" fill="#111" textLength="86.2" lengthAdjust="spacingAndGlyphs">CAFCs/10<tspan font-size="8.5" dy="-4.5">2</tspan><tspan dy="4.5"> cells</tspan></text>
</svg>
</body></html>
